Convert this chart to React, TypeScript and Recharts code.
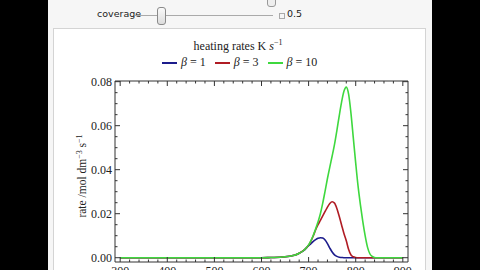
import { LineChart, Line, XAxis, YAxis } from 'recharts'

// temperature (K) and desorption rate for each heating rate
const TEMPS = [
  300, 600, 620, 640, 650, 660, 670, 680, 690, 700, 705, 710, 715, 720, 725, 730, 735, 740, 745,
  750, 755, 760, 765, 770, 775, 780, 785, 790, 795, 800, 805, 810, 815, 820, 825, 830, 835, 840,
  845, 900,
]
const BETA_1 = [
  0, 0, 0.0001, 0.0002, 0.0004, 0.0007, 0.0011, 0.002, 0.0033, 0.0055, 0.0064, 0.0074, 0.0082,
  0.0088, 0.0091, 0.0089, 0.008, 0.0064, 0.0044, 0.0026, 0.0013, 0.0006, 0.0002, 0.0001, 0, 0, 0,
  0, 0, 0, 0, 0, 0, 0, 0, 0, 0, 0, 0, 0,
]
const BETA_3 = [
  0, 0, 0.0001, 0.0002, 0.0004, 0.0007, 0.0011, 0.002, 0.0034, 0.0057, 0.0076, 0.01, 0.0127,
  0.015, 0.017, 0.019, 0.021, 0.023, 0.0246, 0.0254, 0.0248, 0.0224, 0.0188, 0.0149, 0.011, 0.0077,
  0.0037, 0.0012, 0.0004, 0.0001, 0, 0, 0, 0, 0, 0, 0, 0, 0, 0,
]
const BETA_10 = [
  0, 0, 0.0001, 0.0002, 0.0004, 0.0007, 0.0011, 0.002, 0.0034, 0.0058, 0.0078, 0.0102, 0.0131,
  0.0163, 0.02, 0.0248, 0.0303, 0.036, 0.0412, 0.0462, 0.0515, 0.0578, 0.0645, 0.0707, 0.0756,
  0.0775, 0.0742, 0.0655, 0.0542, 0.043, 0.0325, 0.024, 0.0165, 0.01, 0.0048, 0.0018, 0.0006,
  0.0001, 0, 0,
]

const X_MAJOR = [300, 400, 500, 600, 700, 800, 900]
const X_TICKS = [
  300, 320, 340, 360, 380, 400, 420, 440, 460, 480, 500, 520, 540, 560, 580, 600, 620, 640, 660,
  680, 700, 720, 740, 760, 780, 800, 820, 840, 860, 880, 900,
]
const Y_MAJOR = ['0.00', '0.02', '0.04', '0.06', '0.08']
const Y_TICKS = [
  0, 0.005, 0.01, 0.015, 0.02, 0.025, 0.03, 0.035, 0.04, 0.045, 0.05, 0.055, 0.06, 0.065, 0.07,
  0.075, 0.08,
]

const SERIES = [
  { key: 'b1', label: '1', color: '#1c1c8c' },
  { key: 'b3', label: '3', color: '#b01c24' },
  { key: 'b10', label: '10', color: '#3ed83e' },
]

const data = TEMPS.map((t, i) => ({ t, b1: BETA_1[i], b3: BETA_3[i], b10: BETA_10[i] }))

const FRAME = '#333'
const SERIF = '"Liberation Serif", "Times New Roman", serif'
const SANS = '"DejaVu Sans", sans-serif'
const X_DOMAIN = [289, 911]
const Y_DOMAIN = [-0.00195, 0.0803]

const isMajorX = (v: number) => X_MAJOR.includes(v)
const yLabel = (v: number) => Y_MAJOR.find((s) => Math.abs(parseFloat(s) - v) < 1e-9)

function BottomTick(props: any) {
  const { x, y, payload } = props
  const major = isMajorX(payload.value)
  return (
    <g>
      <line x1={x} x2={x} y1={y} y2={y - (major ? 5 : 2.5)} stroke={FRAME} />
      {major && (
        <text x={x} y={y + 13} textAnchor="middle" fontSize={12} fontFamily={SERIF} fill="#222">
          {payload.value}
        </text>
      )}
    </g>
  )
}

function TopTick(props: any) {
  const { x, y, payload } = props
  const major = isMajorX(payload.value)
  return <line x1={x} x2={x} y1={y} y2={y + (major ? 5 : 2.5)} stroke={FRAME} />
}

function LeftTick(props: any) {
  const { x, y, payload } = props
  const label = yLabel(payload.value)
  return (
    <g>
      <line x1={x} x2={x + (label ? 5 : 2.5)} y1={y} y2={y} stroke={FRAME} />
      {label && (
        <text x={x - 3} y={y + 4} textAnchor="end" fontSize={12} fontFamily={SERIF} fill="#222">
          {label}
        </text>
      )}
    </g>
  )
}

function RightTick(props: any) {
  const { x, y, payload } = props
  const label = yLabel(payload.value)
  return <line x1={x} x2={x - (label ? 5 : 2.5)} y1={y} y2={y} stroke={FRAME} />
}

function Controls() {
  return (
    <>
      {/* half-hidden slider above */}
      <div style={{ position: 'absolute', left: 267, top: -10, width: 7, height: 15, border: '1px solid #999', borderRadius: 3, background: '#eee' }} />
      <div style={{ position: 'absolute', left: 97, top: 8, fontFamily: SANS, fontSize: 9.5, color: '#222' }}>coverage</div>
      <div style={{ position: 'absolute', left: 135, top: 15, width: 138, height: 1, background: '#aaa' }} />
      <div style={{ position: 'absolute', left: 157, top: 7, width: 7, height: 16, border: '1px solid #8a8a8a', borderRadius: 3, background: 'linear-gradient(#fafafa, #dcdcdc)' }} />
      <div style={{ position: 'absolute', left: 279, top: 13, width: 4, height: 4, border: '1px solid #aaa' }} />
      <div style={{ position: 'absolute', left: 287, top: 8, fontFamily: SANS, fontSize: 9.5, color: '#222' }}>0.5</div>
    </>
  )
}

export default function App() {
  return (
    <div style={{ position: 'fixed', left: 0, top: 0, width: 480, height: 270, background: '#000', overflow: 'hidden' }}>
      <div style={{ position: 'absolute', left: 48, top: 0, width: 384, height: 270, background: '#f6f6f6' }} />
      <div style={{ position: 'absolute', left: 53, top: 28, width: 371, height: 260, background: '#fff', border: '1px solid #d4d4d4' }} />
      <Controls />

      <div style={{ position: 'absolute', left: 0, top: 38, width: 476, textAlign: 'center', fontFamily: SERIF, fontSize: 12, color: '#222' }}>
        heating rates K <i>s</i>
        <sup style={{ fontSize: 8 }}>−1</sup>
      </div>
      <div style={{ position: 'absolute', left: 162, top: 55, display: 'flex', alignItems: 'center', fontFamily: SERIF, fontSize: 12, color: '#222' }}>
        {SERIES.map((s) => (
          <div key={s.key} style={{ display: 'flex', alignItems: 'center', marginRight: 9 }}>
            <span style={{ display: 'inline-block', width: 15, height: 2, background: s.color, marginRight: 4 }} />
            <span>
              <i>β</i> = {s.label}
            </span>
          </div>
        ))}
      </div>

      <div style={{ position: 'absolute', left: 0, top: 0 }}>
        <LineChart width={480} height={300} data={data} margin={{ top: 71, right: 62, bottom: 8, left: 75 }}>
          <XAxis xAxisId="b" dataKey="t" type="number" domain={X_DOMAIN} allowDataOverflow ticks={X_TICKS} interval={0} height={30} tickSize={0} tickMargin={0} tickLine={false} axisLine={{ stroke: FRAME }} tick={BottomTick} />
          <XAxis xAxisId="t" orientation="top" dataKey="t" type="number" domain={X_DOMAIN} allowDataOverflow ticks={X_TICKS} interval={0} height={10} tickSize={0} tickMargin={0} tickLine={false} axisLine={{ stroke: FRAME }} tick={TopTick} />
          <YAxis yAxisId="l" type="number" domain={Y_DOMAIN} allowDataOverflow ticks={Y_TICKS} interval={0} width={40} tickSize={0} tickMargin={0} tickLine={false} axisLine={{ stroke: FRAME }} tick={LeftTick} />
          <YAxis yAxisId="r" orientation="right" type="number" domain={Y_DOMAIN} allowDataOverflow ticks={Y_TICKS} interval={0} width={10} tickSize={0} tickMargin={0} tickLine={false} axisLine={{ stroke: FRAME }} tick={RightTick} />
          {SERIES.map((s) => (
            <Line key={s.key} xAxisId="b" yAxisId="l" dataKey={s.key} type="monotone" stroke={s.color} strokeWidth={1.6} dot={false} isAnimationActive={false} />
          ))}
          <text transform="translate(86 176) rotate(-90)" textAnchor="middle" fontSize={11.5} fontFamily={SERIF} fill="#222">
            rate /mol dm
            <tspan dy={-4} fontSize={8}>−3</tspan>
            <tspan dy={4}> s</tspan>
            <tspan dy={-4} fontSize={8}>−1</tspan>
          </text>
        </LineChart>
      </div>
    </div>
  )
}
